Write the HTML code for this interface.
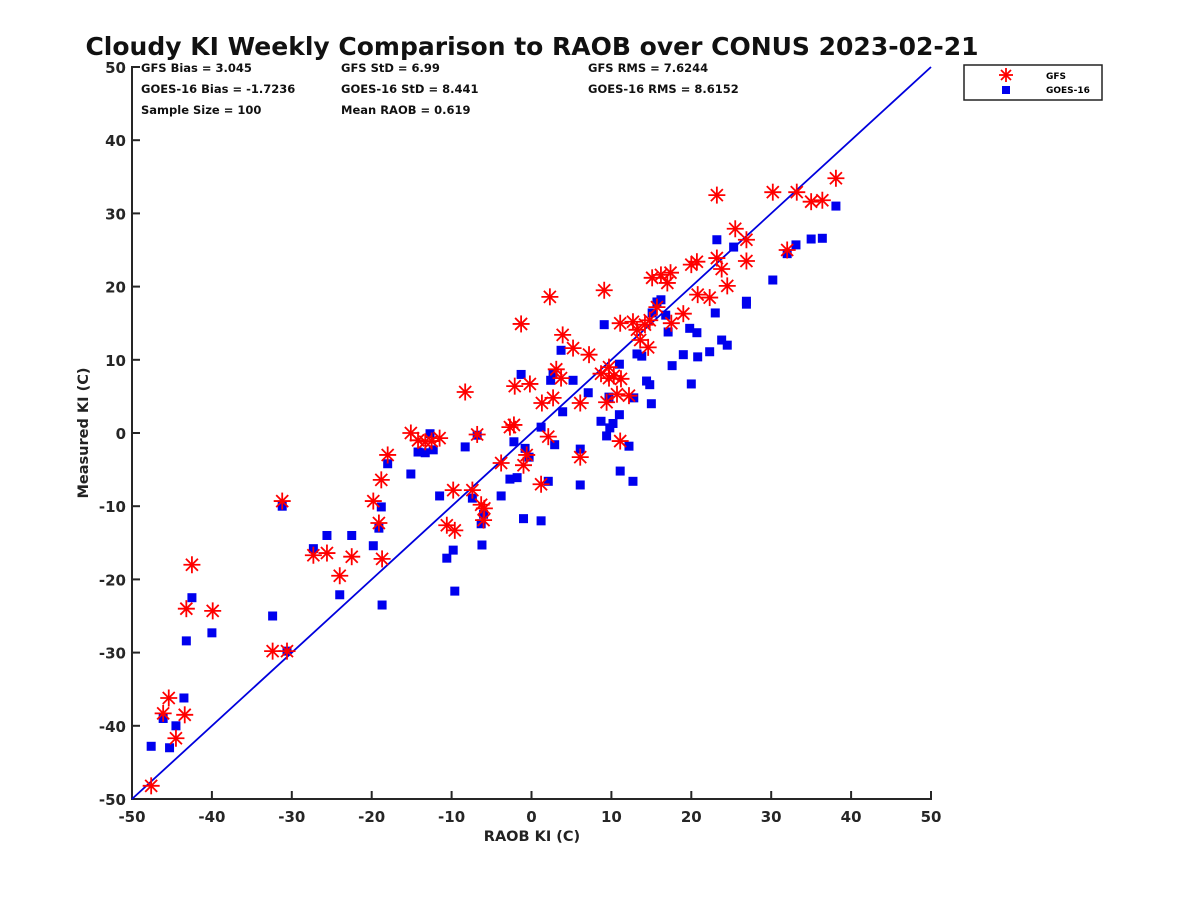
<!DOCTYPE html>
<html><head><meta charset="utf-8"><style>
body{margin:0;background:#fff;}
svg{display:block;font-family:"DejaVu Sans","Liberation Sans",sans-serif;}
</style></head><body>
<svg id="chart" width="1200" height="900" xmlns="http://www.w3.org/2000/svg">
<rect width="1200" height="900" fill="#fff"/>
<text x="532" y="55" text-anchor="middle" font-size="25" font-weight="bold" fill="#111">Cloudy KI Weekly Comparison to RAOB over CONUS 2023-02-21</text>
<g font-size="11.5" font-weight="bold" fill="#111">
<text x="141" y="72">GFS Bias = 3.045</text>
<text x="341" y="72">GFS StD = 6.99</text>
<text x="588" y="72">GFS RMS = 7.6244</text>
<text x="141" y="93">GOES-16 Bias = -1.7236</text>
<text x="341" y="93">GOES-16 StD = 8.441</text>
<text x="588" y="93">GOES-16 RMS = 8.6152</text>
<text x="141" y="114">Sample Size = 100</text>
<text x="341" y="114">Mean RAOB = 0.619</text>
</g>
<g id="axes"></g>
<g id="marks"></g>
<g>
<rect x="964" y="65" width="138" height="35" fill="#fff" stroke="#222" stroke-width="1.5"/>
<g stroke="red" stroke-width="1.8">
<line x1="1001" y1="70" x2="1011" y2="80"/><line x1="1011" y1="70" x2="1001" y2="80"/><line x1="1006" y1="68" x2="1006" y2="82"/><line x1="999" y1="75" x2="1013" y2="75"/>
</g>
<rect x="1002" y="86" width="8" height="8" fill="#0000ee"/>
<text x="1046" y="79" font-size="9" font-weight="bold">GFS</text>
<text x="1046" y="93" font-size="9" font-weight="bold">GOES-16</text>
</g>
<text x="532" y="841" text-anchor="middle" font-size="14.5" font-weight="bold" fill="#222">RAOB KI (C)</text>
<text x="88" y="433" text-anchor="middle" font-size="14.5" font-weight="bold" fill="#222" transform="rotate(-90 88 433)">Measured KI (C)</text>
</svg>
<script>
const xTicks=[-50,-40,-30,-20,-10,0,10,20,30,40,50];
const yTicks=[-50,-40,-30,-20,-10,0,10,20,30,40,50];
const raobGfs=[-47.6,-46.1,-45.4,-44.5,-43.4,-43.2,-42.5,-39.9,-32.4,-30.6,-31.2,-27.3,-25.6,-22.5,-24,-19.8,-18.8,-19.1,-18.7,-18,-15.1,-14.2,-13.3,-12.5,-11.5,-8.3,-9.8,-10.6,-9.6,-7.4,-6.8,-6.3,-6,-5.9,-3.8,-2.7,-2.2,-2.1,-1.3,-1,-0.6,-0.2,1.2,1.3,2.1,2.3,2.7,3.1,3.7,3.9,5.2,6.1,6.1,7.2,9.1,9.4,8.7,9.7,9.7,10.3,10.7,11.2,11.1,11.1,12.2,12.7,13.2,13.6,14.2,14.6,14.8,15.1,15.7,16.2,17,17.5,17.4,19,20,20.7,20.8,22.3,23.2,23.2,23.8,24.5,25.5,26.9,26.9,30.2,32,33.2,35,36.4,38.1];
const gfsVals=[-48.2,-38.3,-36.2,-41.7,-38.5,-24,-18,-24.3,-29.8,-29.8,-9.3,-16.7,-16.4,-16.9,-19.5,-9.3,-6.4,-12.3,-17.2,-3,0,-1,-1.2,-1.1,-0.7,5.6,-7.8,-12.6,-13.3,-7.8,-0.2,-9.8,-11.9,-10.3,-4.1,0.8,1.1,6.4,14.9,-4.4,-3,6.7,-7,4.1,-0.5,18.6,4.8,8.7,7.5,13.4,11.6,4.1,-3.3,10.7,19.5,4.2,8.1,9,7.5,7.8,5.3,7.4,-1.1,15,5.1,15.2,14.1,12.7,14.8,11.7,15.4,21.2,17.2,21.6,20.5,15,21.9,16.3,23,23.4,18.9,18.5,32.5,23.9,22.4,20.1,27.9,26.4,23.5,32.9,25,32.9,31.6,31.8,34.8];
const raobGoes=[-47.6,-46.1,-45.3,-44.5,-43.5,-43.2,-42.5,-40,-32.4,-31.2,-30.6,-27.3,-25.6,-24,-22.5,-19.8,-19.1,-18.8,-18.7,-18,-15.1,-14.2,-13.3,-12.7,-12.3,-11.5,-10.6,-9.8,-9.6,-8.3,-7.4,-6.8,-6.3,-6.2,-6,-3.8,-2.7,-2.2,-1.8,-1.3,-1,-0.8,-0.3,1.2,1.2,2.1,2.4,2.7,2.9,3.7,3.9,5.2,6.1,6.1,7.1,8.7,9.1,9.4,9.7,9.8,10.2,11,11.1,11,12.2,12.7,12.8,13.2,13.8,14.4,14.8,15,15.1,15.7,16.2,16.8,17.1,17.6,19,19.8,20,20.7,20.8,22.3,23,23.2,23.8,24.5,25.3,26.9,26.9,30.2,32,33.1,35,36.4,38.1];
const goesVals=[-42.8,-39,-43,-40,-36.2,-28.4,-22.5,-27.3,-25,-10,-29.8,-15.8,-14,-22.1,-14,-15.4,-13,-10.1,-23.5,-4.2,-5.6,-2.6,-2.7,-0.1,-2.3,-8.6,-17.1,-16,-21.6,-1.9,-8.9,-0.3,-12.4,-15.3,-11.1,-8.6,-6.3,-1.2,-6.1,8,-11.7,-2.1,-3.3,0.8,-12,-6.6,7.2,8.1,-1.6,11.3,2.9,7.2,-2.2,-7.1,5.5,1.6,14.8,-0.4,4.9,0.7,1.3,2.5,-5.2,9.4,-1.8,-6.6,4.8,10.8,10.5,7.1,6.6,4,16.4,17.9,18.2,16.1,13.8,9.2,10.7,14.3,6.7,13.7,10.4,11.1,16.4,26.4,12.7,12,25.4,18,17.6,20.9,24.5,25.7,26.5,26.6,31];
const X0=132,X1=931,Y0=799,Y1=67;
const sx=v=>X0+(v+50)/100*(X1-X0);
const sy=v=>Y0-(v+50)/100*(Y0-Y1);
const NS="http://www.w3.org/2000/svg";
function mk(tag,attrs,parent){const e=document.createElementNS(NS,tag);for(const k in attrs)e.setAttribute(k,attrs[k]);parent.appendChild(e);return e;}
const axes=document.getElementById('axes'),marks=document.getElementById('marks');
let xa=mk('line',{x1:X0-1,y1:Y0,x2:X1+1,y2:Y0,stroke:'#262626','stroke-width':2},axes);


let ya=mk('line',{x1:X0,y1:Y0+1,x2:X0,y2:Y1-1,stroke:'#262626','stroke-width':2},axes);


xTicks.forEach(t=>{const x=sx(t);
 mk('line',{x1:x,y1:Y0,x2:x,y2:Y0-8,stroke:'#262626','stroke-width':2},axes);
 const tx=mk('text',{x:x,y:Y0+23,'text-anchor':'middle','font-size':15,'font-weight':'bold',fill:'#262626'},axes);tx.textContent=t;
 
 
});
yTicks.forEach(t=>{const y=sy(t);
 mk('line',{x1:X0,y1:y,x2:X0+8,y2:y,stroke:'#262626','stroke-width':2},axes);
 const tx=mk('text',{x:X0-6,y:y+6,'text-anchor':'end','font-size':15,'font-weight':'bold',fill:'#262626'},axes);tx.textContent=t;
 
 
});
let ref=mk('line',{x1:sx(-50),y1:sy(-50),x2:sx(50),y2:sy(50),stroke:'#0000dd','stroke-width':1.8},marks);


raobGoes.forEach((r,i)=>{const x=sx(r),y=sy(goesVals[i]);
 const s=mk('rect',{x:x-4.5,y:y-4.5,width:9,height:9,fill:'#0000ee'},marks);
 
 
});
raobGfs.forEach((r,i)=>{const x=sx(r),y=sy(gfsVals[i]),d=8.5,e=6;
 const g=mk('g',{stroke:'#ff0000','stroke-width':1.8},marks);
 
 
 mk('line',{x1:x-d,y1:y,x2:x+d,y2:y},g);
 mk('line',{x1:x,y1:y-d,x2:x,y2:y+d},g);
 mk('line',{x1:x-e,y1:y-e,x2:x+e,y2:y+e},g);
 mk('line',{x1:x-e,y1:y+e,x2:x+e,y2:y-e},g);
});
</script>
</body></html>
